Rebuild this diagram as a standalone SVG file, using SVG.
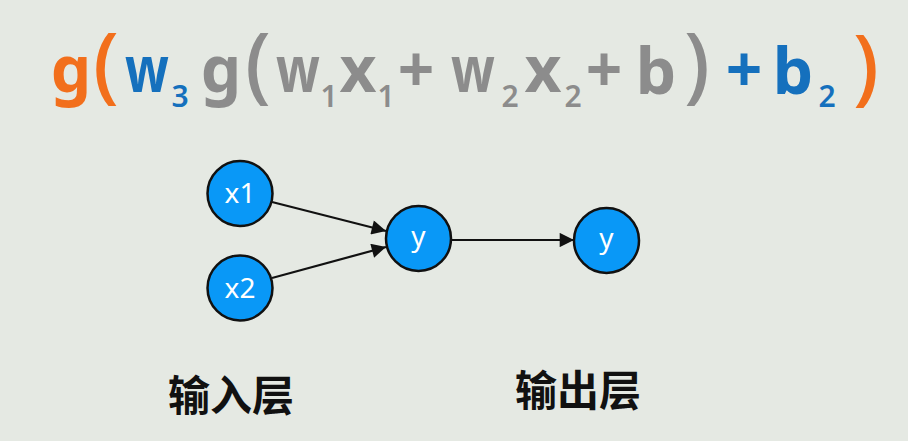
<svg xmlns="http://www.w3.org/2000/svg" width="908" height="441" viewBox="0 0 908 441">
<defs>
<style>
.f{font-family:"Noto Sans","DejaVu Sans",sans-serif;font-weight:700;text-anchor:middle;font-size:64px}
.p{font-size:83px;font-weight:500}
.s{font-size:30px;font-weight:600}
.o{fill:#f26f1c}
.b{fill:#1570bd}
.g{fill:#8c8c8c}
.node circle{fill:#0998f7;stroke:#111;stroke-width:2.5}
.node text{font-family:"Noto Sans","Open Sans",sans-serif;font-size:28px;fill:#fff;text-anchor:middle}
.lbl{font-family:"Noto Sans CJK SC","Noto Sans",sans-serif;font-size:42px;font-weight:700;fill:#111}
.edge{stroke:#111;stroke-width:2.2;fill:none;marker-end:url(#ah)}
</style>
<marker id="ah" viewBox="0 0 10 10" refX="10" refY="5" markerWidth="7.5" markerHeight="6.5" markerUnits="strokeWidth" orient="auto">
<path d="M0,0 L10,5 L0,10 z" fill="#111"/>
</marker>
</defs>
<rect width="908" height="441" fill="#e5e9e3"/>
<g id="formula" class="f">
<text class="o" x="71" y="92">g</text>
<text class="p o" x="106" y="93">(</text>
<text class="b" transform="translate(147,92) scale(0.8,1)">w</text>
<text class="s b" x="180" y="107">3</text>
<text class="g" x="221" y="92">g</text>
<text class="p g" x="258" y="93">(</text>
<text class="g" transform="translate(298,92) scale(0.8,1)">w</text>
<text class="s g" x="329" y="107">1</text>
<text class="g" x="358" y="92">x</text>
<text class="s g" x="386" y="107">1</text>
<text class="g" x="416" y="92">+</text>
<text class="g" transform="translate(473,92) scale(0.8,1)">w</text>
<text class="s g" x="510" y="107">2</text>
<text class="g" x="543" y="92">x</text>
<text class="s g" x="573" y="107">2</text>
<text class="g" x="604" y="92">+</text>
<text class="g" x="656" y="94">b</text>
<text class="p g" x="697" y="93">)</text>
<text class="b" x="744" y="92">+</text>
<text class="b" x="793" y="94">b</text>
<text class="s b" x="827" y="107">2</text>
<text class="p o" x="866" y="95">)</text>
</g>
<g id="connectors">
<line class="edge" x1="272" y1="202" x2="386" y2="231"/>
<line class="edge" x1="272" y1="278" x2="386" y2="247"/>
<line class="edge" x1="451" y1="240" x2="574" y2="240"/>
</g>
<g id="node-x1" class="node"><circle cx="240" cy="193.5" r="32.5"/><text x="240" y="203">x1</text></g>
<g id="node-x2" class="node"><circle cx="240" cy="288" r="32.5"/><text x="240" y="298">x2</text></g>
<g id="node-y1" class="node"><circle cx="418.5" cy="238.5" r="32.5"/><text x="418.5" y="246">y</text></g>
<g id="node-y2" class="node"><circle cx="606.5" cy="240.5" r="32.5"/><text x="606.5" y="248">y</text></g>
<text id="label-input" class="lbl" x="168" y="411">输入层</text>
<text id="label-output" class="lbl" x="515" y="406">输出层</text>
</svg>
